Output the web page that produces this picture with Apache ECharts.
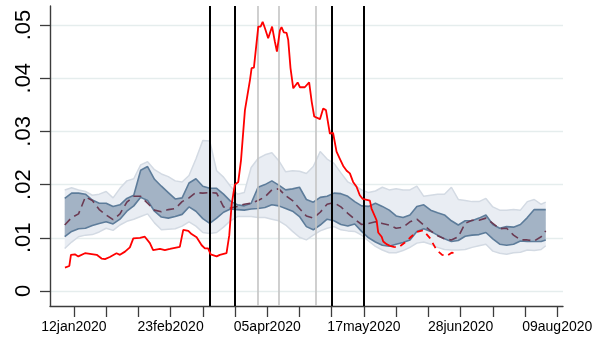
<!DOCTYPE html>
<html><head><meta charset="utf-8">
<script src="https://cdn.jsdelivr.net/npm/echarts@6/dist/echarts.min.js"></script>
<style>html,body{margin:0;padding:0;background:#fff}#c{width:598px;height:340px}</style>
</head><body><div id="c"></div>
<script>
// x values are days since 12 Jan 2020
const bandDays = [-4,-1,2,5,8,11,14,17,20,23,26,29,32,35,38,41,44,47,50,53,56,59,62,65,68,71,74,77,80,83,86,89,92,95,98,101,104,107,110,113,116,119,122,125,128,131,134,137,140,143,146,149,152,155,158,161,164,167,170,173,176,179,182,185,188,191,194,197,200,203,205];
const outerHi = [.0190,.0194,.0190,.0187,.0180,.0182,.0187,.0175,.0193,.0207,.0211,.0237,.0243,.0228,.0220,.0215,.0207,.0205,.0217,.0248,.0283,.0282,.0226,.0214,.0197,.0182,.0185,.0232,.0249,.0256,.0260,.0245,.0224,.0226,.0225,.0221,.0234,.0262,.0248,.0240,.0222,.0205,.0198,.0190,.0185,.0188,.0195,.0190,.0192,.0190,.0190,.0197,.0178,.0180,.0182,.0182,.0195,.0172,.0170,.0168,.0168,.0174,.0158,.0152,.0152,.0153,.0152,.0168,.0172,.0163,.0167];
const innerHi = [.0174,.0184,.0184,.0182,.0171,.0165,.0165,.0159,.0162,.0174,.0180,.0227,.0234,.0210,.0197,.0185,.0173,.0175,.0203,.0211,.0197,.0193,.0193,.0182,.0169,.0162,.0160,.0165,.0195,.0200,.0207,.0199,.0190,.0192,.0195,.0172,.0167,.0176,.0178,.0184,.0183,.0178,.0168,.0160,.0159,.0165,.0159,.0152,.0141,.0138,.0143,.0159,.0162,.0152,.0147,.0143,.0132,.0124,.0132,.0132,.0137,.0143,.0125,.0118,.0121,.0120,.0125,.0138,.0153,.0153,.0153];
const innerLo = [.0102,.0112,.0117,.0118,.0123,.0127,.0130,.0126,.0135,.0150,.0160,.0176,.0170,.0150,.0139,.0137,.0140,.0144,.0158,.0150,.0136,.0127,.0137,.0148,.0154,.0153,.0152,.0154,.0155,.0157,.0162,.0160,.0155,.0150,.0140,.0121,.0115,.0124,.0135,.0132,.0125,.0122,.0126,.0112,.0100,.0092,.0086,.0084,.0088,.0091,.0096,.0112,.0117,.0112,.0105,.0098,.0093,.0095,.0103,.0105,.0106,.0110,.0098,.0088,.0086,.0088,.0094,.0093,.0093,.0093,.0096];
const outerLo = [.0080,.0092,.0102,.0105,.0106,.0111,.0118,.0114,.0124,.0131,.0135,.0140,.0145,.0128,.0115,.0116,.0117,.0122,.0130,.0122,.0110,.0108,.0110,.0120,.0132,.0140,.0140,.0140,.0138,.0138,.0135,.0132,.0124,.0112,.0101,.0096,.0105,.0113,.0118,.0121,.0115,.0113,.0112,.0105,.0094,.0084,.0077,.0072,.0072,.0076,.0082,.0090,.0092,.0088,.0082,.0078,.0077,.0077,.0078,.0082,.0085,.0088,.0075,.0071,.0069,.0072,.0073,.0077,.0076,.0078,.0085];
const median = [.0124,.0138,.0145,.0177,.0170,.0153,.0143,.0134,.0145,.0167,.0178,.0178,.0165,.0152,.0149,.0153,.0155,.0168,.0175,.0185,.0184,.0185,.0184,.0158,.0156,.0159,.0163,.0165,.0170,.0177,.0190,.0192,.0179,.0170,.0155,.0141,.0137,.0148,.0163,.0166,.0158,.0146,.0135,.0125,.0127,.0130,.0127,.0124,.0118,.0120,.0130,.0135,.0124,.0113,.0104,.0098,.0096,.0102,.0127,.0133,.0133,.0137,.0127,.0117,.0118,.0105,.0096,.0096,.0094,.0102,.0113];

const redSolidDays = [-3.9,-2.0,-1.3,0.4,1.9,4.8,9.9,12.0,13.5,15.6,18.5,20.0,22.2,24.3,25.8,28.7,30.8,33.0,34.4,37.4,39.5,41.7,46.0,47.5,49.7,51.1,53.3,55.5,56.9,58.3,59.4,62.0,63.4,66.3,67.5,68.5,69.9,71.4,72.6,74.3,76.5,77.2,78.2,80.1,81.1,82.0,83.0,84.4,85.1,86.1,87.3,88.2,89.5,90.2,91.2,92.4,93.1,94.1,95.3,97.2,98.2,100.3,102.2,103.3,104.4,106.9,108.3,109.5,111.2,112.6,114.1,115.5,117.0,118.5,119.9,121.3,122.8,124.2,125.5,127.7,128.6,129.3,131.5,132.2,133.7,134.4,135.8,137.3];
const redSolid = [.0044,.0047,.0068,.0069,.0065,.0071,.0068,.0061,.0060,.0064,.0071,.0068,.0074,.0082,.0099,.0100,.0102,.0090,.0077,.0079,.0077,.0079,.0083,.0115,.0113,.0107,.0101,.0086,.0080,.0080,.0069,.0065,.0068,.0071,.0105,.0162,.0200,.0205,.0246,.0340,.0397,.0419,.0420,.0497,.0497,.0506,.0494,.0475,.0475,.0497,.0469,.0450,.0490,.0496,.0486,.0485,.0472,.0419,.0381,.0392,.0383,.0383,.0392,.0356,.0328,.0323,.0343,.0340,.0296,.0297,.0262,.0249,.0235,.0226,.0221,.0205,.0196,.0180,.0173,.0171,.0170,.0155,.0133,.0110,.0102,.0093,.0088,.0085];
const redDashDays = [137.3,139.0,141.0,143.8,146.0,148.9,151.7,154.6,157.6,160.0,162.0,164.1,166.9];
const redDash = [.0085,.0083,.0082,.0091,.0100,.0111,.0114,.0100,.0077,.0068,.0066,.0072,.0071];

const eventDaysBlack = [59,70,112,126];
const eventDaysGray = [80,89,105];

const xTickDays = [0,14,28,42,56,70,84,98,112,126,140,154,168,182,196,210];
const xLabelDays = [0,42,84,126,168,210];
const xLabelText = ['12jan2020','23feb2020','05apr2020','17may2020','28jun2020','09aug2020'];
const yTickVals = [0,0.01,0.02,0.03,0.04,0.05];
const yTickText = ['0','.01','.02','.03','.04','.05'];

const pts = (xs, ys) => xs.map((x,i)=>[x, ys[i]]);
const findIdx = (arr, v) => arr.findIndex(a => Math.abs(a - v) < 1e-9);

const axisColor = '#3c3c3c';
const outerFill = '#e9edf3', outerEdge = '#d3dae3';
const innerFill = '#a3b3c5', innerEdge = '#5d7c9a';

const lineS = (data, color, width, z, type) => ({
  type:'line', data, symbol:'none', silent:true, z,
  lineStyle:{color, width, type: type || 'solid'}
});

// band polygon between hi and lo arrays, through the axes' scales
const bandS = (hi, lo, fill, z) => ({
  type:'custom', coordinateSystem:'cartesian2d', silent:true, z,
  data:[[bandDays[0], lo[0]]],
  renderItem:(params, api) => {
    const top = bandDays.map((d,i) => api.coord([d, hi[i]]));
    const bot = bandDays.map((d,i) => api.coord([d, lo[i]])).reverse();
    return {type:'polygon', shape:{points: top.concat(bot)}, style:{fill, stroke:null}};
  }
});

const chart = echarts.init(document.getElementById('c'), null, {renderer:'canvas'});
chart.setOption({
  animation:false,
  grid:{left:50, right:35, top:6, bottom:34, containLabel:false},
  xAxis:{
    type:'value', min:-10.4, max:212.5,
    axisLine:{onZero:false, lineStyle:{color:axisColor, width:1.4}},
    axisTick:{customValues:xTickDays, length:11, lineStyle:{color:axisColor, width:1.3}},
    axisLabel:{customValues:xLabelDays, margin:14, color:'#000', fontSize:14, fontFamily:'Liberation Sans',
      formatter:v => { const i = findIdx(xLabelDays, v); return i >= 0 ? xLabelText[i] : ''; }},
    splitLine:{show:false}
  },
  yAxis:{
    type:'value', min:-0.00282, max:0.05357,
    axisLine:{show:true, onZero:false, lineStyle:{color:axisColor, width:1.4}},
    axisTick:{show:true, customValues:yTickVals, length:10, lineStyle:{color:axisColor, width:1.3}},
    axisLabel:{customValues:yTickVals, rotate:90, margin:15, color:'#000', fontSize:22, fontFamily:'Liberation Sans',
      formatter:v => { const i = findIdx(yTickVals, v); return i >= 0 ? yTickText[i] : ''; }},
    splitLine:{show:true, lineStyle:{color:'#e5eded', width:1.3}}
  },
  series:[
    bandS(outerHi, outerLo, outerFill, 2),
    lineS(pts(bandDays, outerHi), outerEdge, 1.5, 2),
    lineS(pts(bandDays, outerLo), outerEdge, 1.5, 2),
    bandS(innerHi, innerLo, innerFill, 3),
    lineS(pts(bandDays, innerHi), innerEdge, 1.6, 3),
    lineS(pts(bandDays, innerLo), innerEdge, 1.6, 3),
    lineS(pts(bandDays, median), '#6b3a52', 1.6, 4, [8,5]),
    {type:'line', data:[], silent:true, z:5,
      markLine:{silent:true, symbol:'none', label:{show:false}, animation:false,
        data: eventDaysGray.map(d => ({xAxis:d, lineStyle:{color:'#c4c4c4', width:1.6, type:'solid'}}))
          .concat(eventDaysBlack.map(d => ({xAxis:d, lineStyle:{color:'#000', width:2, type:'solid'}})))
      }},
    lineS(pts(redSolidDays, redSolid), '#ff0000', 1.8, 10),
    lineS(pts(redDashDays, redDash), '#ff0000', 1.8, 10, [6,5])
  ]
});
</script></body></html>
